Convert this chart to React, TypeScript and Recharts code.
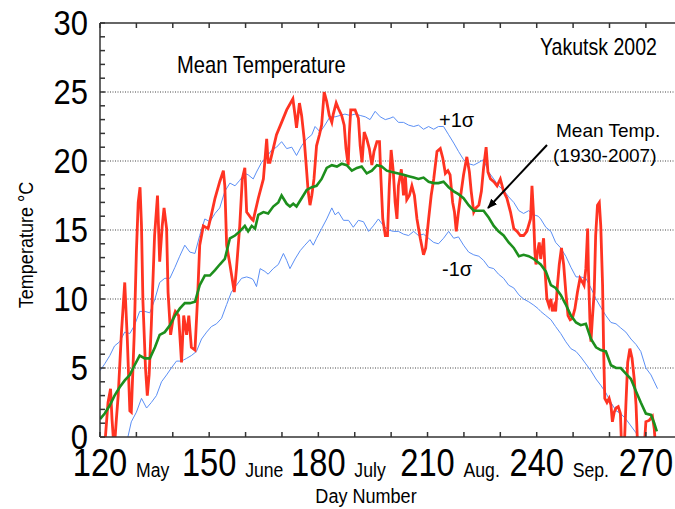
import React from "react";
import { LineChart, Line, XAxis, YAxis, CartesianGrid } from "recharts";

// Yakutsk 2002, daily mean temperature vs. 1930-2007 climatology
const tickDays = [120, 130, 140, 150, 160, 170, 180, 190, 200, 210, 220, 230, 240, 250, 260, 270];
const majorDays = [120, 150, 180, 210, 240, 270];
const monthNames = ["May", "June", "July", "Aug.", "Sep."];
const tempTicks = Array.from({ length: 31 }, (_, i) => i);

const obsDays = [
  121.2, 122.2, 122.9, 123.3, 123.9, 124.5, 125.0, 125.9, 126.8, 127.5, 128.2, 128.6, 129.4, 130.0,
  130.5, 131.0, 131.4, 131.8, 132.5, 133.0, 133.5, 134.1, 135.0, 135.8, 136.4, 137.1, 137.6, 138.3,
  138.7, 139.4, 140.1, 140.7, 141.6, 142.4, 143.0, 143.8, 144.4, 145.1, 146.1, 146.8, 147.4, 148.4,
  149.7, 150.6, 151.6, 152.9, 153.9, 154.3, 154.8, 155.7, 156.9, 157.5, 158.4, 159.1, 159.8, 160.3,
  161.7, 162.1, 163.5, 164.9, 165.8, 166.2, 166.7, 167.6, 168.5, 169.9, 171.3, 173.0, 173.6, 174.0,
  174.8, 175.4, 176.1, 176.6, 177.2, 177.7, 178.2, 178.8, 179.5, 180.3, 180.9, 181.6, 182.3, 183.0,
  183.7, 184.1, 184.9, 185.5, 186.4, 187.1, 187.6, 188.2, 188.5, 188.9, 190.1, 191.0, 191.5, 192.0,
  192.6, 193.3, 194.0, 194.7, 195.3, 196.1, 196.8, 197.2, 197.7, 198.4, 199.0, 199.5, 200.0, 200.6,
  201.1, 201.6, 202.0, 202.8, 203.4, 203.9, 204.3, 205.0, 205.7, 206.4, 207.1, 208.0, 208.9, 209.5,
  210.3, 211.0, 211.7, 212.6, 213.5, 214.2, 214.9, 215.6, 216.2, 216.9, 217.4, 217.9, 218.4, 219.0,
  219.9, 220.8, 221.5, 222.0, 222.7, 223.3, 224.1, 224.8, 225.4, 226.1, 226.6, 227.3, 228.2, 229.1,
  230.0, 230.9, 231.8, 232.8, 233.7, 234.6, 235.5, 236.4, 237.3, 238.3, 238.7, 239.1, 239.5, 239.8,
  240.2, 240.7, 241.1, 241.9, 242.3, 242.8, 243.4, 243.9, 244.3, 244.8, 245.2, 245.7, 246.2, 246.8,
  247.4, 248.0, 248.6, 249.2, 249.8, 250.5, 251.2, 251.9, 252.6, 253.0, 253.5, 254.0, 254.2, 254.6,
  254.9, 255.3, 255.8, 256.2, 256.7, 257.2, 257.6, 258.1, 258.4, 258.7, 259.3, 259.9, 260.4, 260.8,
  261.3, 261.8, 262.4, 263.0, 263.3, 264.1, 264.5, 265.0, 265.6, 266.2, 266.8, 267.3, 267.7, 268.6,
  269.6, 270.0, 270.9, 271.8, 272.3, 272.6,
];
const obsTemps = [
  -1, 2.5, 3.5, 1.3, -1, 1.3, 3.0, 7.6, 11.2, 7.1, 1.9, 1.8, 7.4, 13.4,
  17.0, 18.1, 15.3, 9.8, 5.0, 3.0, 4.5, 8.1, 14.6, 17.5, 12.7, 15.3, 16.6, 15.1,
  10.5, 7.4, 8.6, 9.1, 8.8, 5.4, 8.8, 7.4, 8.8, 6.5, 6.3, 10.0, 13.9, 15.3,
  15.1, 16.1, 17.3, 18.5, 19.3, 18.2, 13.9, 12.5, 10.5, 12.2, 15.3, 18.7, 19.5, 16.3,
  15.8, 15.7, 17.3, 18.7, 21.6, 19.9, 19.9, 20.9, 21.9, 22.8, 23.7, 24.5, 23.3, 22.4,
  24.2, 23.3, 21.6, 19.9, 17.8, 16.8, 17.5, 18.7, 21.1, 21.9, 22.6, 25.0, 24.3, 23.3,
  22.8, 23.4, 24.2, 23.8, 23.3, 22.6, 20.9, 19.7, 21.9, 23.7, 23.7, 23.1, 21.1, 19.9,
  22.1, 21.6, 20.9, 19.7, 20.7, 21.4, 21.4, 18.7, 15.8, 14.6, 14.6, 18.2, 20.8, 19.2,
  17.0, 15.8, 18.2, 19.4, 17.5, 19.0, 17.2, 17.5, 18.2, 17.5, 15.8, 14.4, 13.2, 13.7,
  15.8, 17.5, 18.7, 20.7, 20.9, 20.2, 19.1, 19.3, 19.0, 17.0, 16.3, 14.9, 16.1, 17.3,
  19.0, 20.3, 19.2, 17.8, 16.3, 16.6, 16.8, 17.8, 19.5, 21.0, 19.2, 18.7, 18.5, 18.2,
  18.7, 17.8, 17.3, 16.3, 15.1, 14.9, 14.6, 14.6, 14.9, 15.8, 18.2, 16.3, 13.4, 12.5,
  13.4, 14.1, 12.9, 14.4, 12.0, 10.0, 9.5, 10.0, 9.1, 9.5, 9.1, 11.0, 12.5, 13.7,
  12.5, 10.5, 8.8, 8.5, 8.6, 9.3, 10.5, 11.5, 11.2, 11.0, 12.2, 15.1, 12.2, 8.6,
  6.9, 8.6, 10.5, 14.6, 16.8, 17.0, 15.3, 11.0, 6.2, 2.8, 2.5, 2.8, 2.3, 1.1,
  1.8, 2.1, 2.2, 1.7, -0.5, -0.5, 2.3, 5.4, 6.4, 5.7, 4.2, 2.3, -0.5, -0.5,
  -0.5, 1.1, 1.2, 1.5, 0.6, -0.5,
];

const meanDays = [
  120.0, 121.3, 122.7, 124.0, 125.4, 126.8, 128.2, 129.5, 130.9, 132.3, 133.7, 135.1, 136.4, 137.8,
  139.2, 140.6, 141.9, 143.3, 144.7, 146.1, 147.4, 148.8, 150.2, 151.6, 152.9, 154.3, 155.7, 157.1,
  158.4, 159.8, 160.7, 161.7, 162.6, 163.5, 164.9, 166.2, 167.6, 169.0, 169.9, 171.3, 172.2, 173.1,
  174.0, 175.4, 176.8, 178.2, 179.5, 180.9, 182.3, 183.7, 185.1, 186.4, 187.8, 189.2, 190.6, 191.9,
  193.3, 194.7, 196.1, 197.4, 198.8, 200.2, 202.0, 203.4, 204.8, 206.2, 207.5, 208.9, 210.3, 211.7,
  213.0, 214.4, 215.8, 217.2, 218.5, 219.9, 221.3, 222.7, 224.1, 225.4, 226.8, 228.2, 229.5, 230.9,
  232.3, 233.7, 235.1, 236.4, 237.8, 239.2, 241.1, 242.5, 243.9, 245.2, 246.6, 248.0, 249.4, 250.8,
  252.1, 253.5, 254.9, 256.3, 257.6, 259.0, 260.4, 261.8, 263.1, 264.5, 265.9, 267.3, 268.6, 270.0,
  271.4, 272.3, 273.0,
];
const meanTemps = [
  1.3, 1.7, 2.3, 3.0, 3.6, 4.1, 4.5, 5.2, 5.9, 5.7, 5.7, 6.5, 7.4, 7.6,
  8.1, 8.8, 9.3, 9.7, 9.7, 9.8, 11.0, 11.7, 11.7, 12.1, 12.5, 12.9, 14.4, 14.6,
  14.9, 15.3, 14.9, 15.3, 15.1, 16.1, 16.3, 16.2, 16.7, 17.0, 17.5, 16.9, 16.7, 16.9,
  16.7, 17.3, 17.9, 18.1, 18.2, 18.7, 19.5, 19.7, 19.6, 19.8, 19.7, 19.3, 19.5, 19.6,
  19.1, 19.3, 19.7, 19.6, 19.3, 19.2, 19.1, 19.0, 18.9, 18.8, 18.7, 18.8, 18.5, 18.4,
  18.4, 18.5, 18.1, 17.8, 17.6, 17.3, 16.8, 16.4, 16.4, 16.4, 15.9, 15.3, 14.9, 14.6,
  14.1, 13.7, 13.1, 13.2, 13.1, 12.9, 12.5, 12.0, 11.0, 10.8, 10.3, 9.6, 8.8, 8.3,
  8.1, 8.2, 7.1, 6.5, 6.3, 6.2, 5.2, 5.0, 5.0, 4.6, 4.2, 3.3, 2.5, 1.7,
  1.6, 1.0, 0.4,
];

const upperDays = [
  120.0, 121.3, 122.7, 124.0, 125.4, 126.8, 128.2, 129.5, 130.9, 132.3, 133.7, 135.1, 136.4, 137.8,
  139.2, 140.6, 141.9, 143.3, 144.7, 146.1, 147.4, 148.8, 150.2, 151.6, 152.9, 154.3, 155.7, 157.1,
  158.4, 159.8, 160.7, 162.1, 163.0, 164.4, 165.8, 167.2, 168.5, 169.9, 171.3, 172.7, 174.0, 175.4,
  176.8, 178.2, 179.1, 180.5, 181.8, 183.2, 184.6, 186.0, 187.3, 188.7, 190.1, 191.5, 192.9, 194.2,
  195.6, 197.0, 198.4, 199.7, 200.6, 202.0, 203.4, 204.8, 206.2, 207.5, 208.9, 210.3, 211.7, 213.0,
  214.4, 215.8, 217.2, 218.5, 219.9, 221.3, 222.7, 224.1, 225.4, 226.8, 228.2, 229.5, 230.9, 232.3,
  233.7, 235.1, 236.4, 237.8, 239.2, 240.4, 241.1, 242.5, 243.9, 245.2, 246.6, 248.0, 249.4, 250.8,
  252.1, 253.5, 254.9, 256.3, 257.6, 259.0, 260.4, 261.8, 263.1, 264.5, 265.9, 267.3, 268.6, 270.0,
  271.4, 272.3, 273.2,
];
const upperTemps = [
  4.8, 5.3, 5.9, 6.6, 6.9, 7.6, 7.5, 8.1, 9.1, 9.1, 9.0, 10.0, 11.2, 11.5,
  11.5, 12.3, 13.1, 13.9, 13.4, 13.3, 14.6, 15.8, 15.6, 16.2, 16.6, 17.8, 18.4, 18.2,
  18.6, 19.1, 19.0, 18.7, 19.2, 19.9, 20.3, 20.8, 21.0, 21.4, 20.9, 21.0, 20.4, 21.1,
  21.6, 21.9, 22.5, 22.1, 22.6, 23.2, 23.2, 23.3, 23.4, 23.3, 23.4, 23.3, 23.2, 23.0,
  23.6, 23.2, 23.0, 23.1, 23.2, 22.8, 22.8, 22.6, 22.5, 22.6, 22.3, 22.5, 22.3, 22.5,
  22.5, 21.9, 21.3, 20.7, 20.1, 19.8, 19.7, 19.9, 20.1, 19.2, 18.7, 18.2, 17.9, 17.4,
  17.0, 16.4, 16.2, 16.4, 16.1, 16.0, 15.8, 15.2, 14.9, 14.1, 13.7, 13.1, 12.3, 11.6,
  11.6, 11.5, 10.8, 10.0, 9.4, 8.8, 8.3, 8.2, 7.9, 7.6, 7.1, 6.7, 6.2, 5.0,
  4.5, 4.0, 3.5,
];

const lowerDays = [
  127.5, 128.6, 130.0, 131.4, 132.8, 134.1, 135.5, 136.9, 138.3, 139.6, 141.0, 142.4, 143.8, 145.1,
  146.5, 147.9, 149.3, 150.6, 152.0, 153.4, 154.8, 156.1, 157.5, 158.9, 160.3, 161.5, 162.1, 163.0,
  164.0, 165.3, 166.2, 167.6, 169.0, 170.4, 171.3, 172.2, 173.6, 175.0, 176.3, 177.7, 178.6, 179.5,
  180.9, 182.3, 183.7, 184.6, 185.5, 186.9, 188.3, 189.6, 191.0, 192.4, 193.8, 195.1, 196.5, 197.9,
  199.3, 200.6, 202.0, 203.4, 204.8, 206.2, 207.5, 208.9, 210.3, 211.7, 213.0, 214.4, 215.8, 217.2,
  218.5, 219.9, 221.3, 222.7, 224.1, 225.4, 226.8, 228.2, 229.5, 230.9, 232.3, 233.7, 235.1, 236.4,
  237.8, 239.2, 240.4, 241.1, 242.5, 243.9, 245.2, 246.6, 248.0, 249.4, 250.8, 252.1, 253.5, 254.9,
  256.3, 257.6, 259.0, 260.4, 261.8, 263.1, 264.5, 265.9, 267.3, 268.2,
];
const lowerTemps = [
  -0.2, 1.1, 1.8, 2.8, 2.1, 2.5, 3.0, 4.0, 4.5, 5.0, 5.5, 5.5, 5.7, 5.9,
  6.2, 7.1, 7.6, 8.0, 8.2, 8.6, 9.6, 10.5, 11.0, 11.5, 11.6, 11.5, 11.4, 10.9,
  12.2, 12.0, 11.8, 12.2, 12.5, 13.3, 12.8, 12.2, 12.9, 13.5, 13.9, 14.3, 13.9, 14.4,
  15.1, 15.8, 16.6, 16.1, 16.3, 15.7, 15.7, 15.2, 15.7, 15.6, 14.9, 15.3, 15.8, 15.3,
  15.0, 14.9, 14.9, 14.7, 14.6, 14.9, 14.6, 14.7, 14.4, 14.1, 14.0, 14.4, 14.9, 14.4,
  14.5, 13.9, 13.4, 13.2, 13.1, 12.8, 12.3, 12.2, 11.8, 11.5, 11.0, 10.8, 10.3, 10.0,
  9.8, 9.55, 9.3, 9.1, 8.8, 8.5, 8.0, 7.5, 6.9, 6.4, 6.2, 5.8, 5.3, 4.8,
  4.2, 3.75, 3.2, 2.5, 1.9, 1.7, 1.3, 0.8, 0.3, -0.2,
];

const zip = (days: number[], temps: number[]) => days.map((day, i) => ({ day, t: temps[i] }));
const obsData = zip(obsDays, obsTemps);
const meanData = zip(meanDays, meanTemps);
const upperData = zip(upperDays, upperTemps);
const lowerData = zip(lowerDays, lowerTemps);

const sans = "'Liberation Sans', Arial, Helvetica, sans-serif";
const axisColor = "#333";

// the original uses a condensed Helvetica; squeeze regular Liberation Sans horizontally
function NText(props: {
  x: number;
  y: number;
  size: number;
  sx?: number;
  anchor?: "start" | "middle" | "end";
  children: React.ReactNode;
}) {
  const { x, y, size, sx = 0.84, anchor = "start", children } = props;
  return (
    <text
      transform={`translate(${x},${y}) scale(${sx},1)`}
      textAnchor={anchor}
      fontSize={size}
      fontFamily={sans}
      fill="#000"
    >
      {children}
    </text>
  );
}

function BottomTick(props: any) {
  const { x, y, payload } = props;
  const v = payload.value;
  const idx = majorDays.indexOf(v);
  return (
    <g>
      <line x1={x} y1={y} x2={x} y2={y - 5} stroke={axisColor} strokeWidth={1.5} />
      {idx >= 0 && (
        <NText x={x} y={y + 39} size={38} anchor="middle" sx={0.86}>
          {v}
        </NText>
      )}
      {idx >= 0 && monthNames[idx] && (
        <NText x={x + 36} y={y + 40} size={21} sx={0.84}>
          {monthNames[idx]}
        </NText>
      )}
    </g>
  );
}

function TopTick(props: any) {
  const { x, y } = props;
  return <line x1={x} y1={y} x2={x} y2={y + 5} stroke={axisColor} strokeWidth={1.5} />;
}

function LeftTick(props: any) {
  const { x, y, payload } = props;
  const v = payload.value;
  return (
    <g>
      <line x1={x} y1={y} x2={x + 5} y2={y} stroke={axisColor} strokeWidth={1.5} />
      {v % 5 === 0 && (
        <NText x={x - 12} y={y + 12} size={36} anchor="end" sx={0.86}>
          {v}
        </NText>
      )}
    </g>
  );
}

export default function App() {
  return (
    <div style={{ position: "absolute", left: 0, top: 0, width: 675, height: 509, background: "#fff" }}>
      <LineChart width={675} height={509} margin={{ top: 0, right: 0, bottom: 0, left: 0 }}>
        <CartesianGrid
          stroke="#444"
          strokeDasharray="1 1.5"
          verticalValues={[150, 180, 210, 240, 270]}
          horizontalValues={[5, 10, 15, 20, 25]}
        />
        <XAxis
          xAxisId="bottom"
          type="number"
          dataKey="day"
          domain={[120, 278]}
          allowDataOverflow
          ticks={tickDays}
          interval={0}
          height={72}
          tickSize={0}
          tickMargin={0}
          tickLine={false}
          tick={<BottomTick />}
          axisLine={{ stroke: axisColor, strokeWidth: 1.5 }}
        />
        <XAxis
          xAxisId="top"
          orientation="top"
          type="number"
          dataKey="day"
          domain={[120, 278]}
          allowDataOverflow
          ticks={tickDays}
          interval={0}
          height={23}
          tickSize={0}
          tickMargin={0}
          tickLine={false}
          tick={<TopTick />}
          axisLine={{ stroke: axisColor, strokeWidth: 1.5 }}
        />
        <YAxis
          type="number"
          domain={[0, 30]}
          allowDataOverflow
          ticks={tempTicks}
          interval={0}
          width={100}
          tickSize={0}
          tickMargin={0}
          tickLine={false}
          tick={<LeftTick />}
          axisLine={{ stroke: axisColor, strokeWidth: 1.5 }}
        />
        <Line xAxisId="bottom" data={upperData} dataKey="t" stroke="#5b8ff5" strokeWidth={1} dot={false} isAnimationActive={false} />
        <Line xAxisId="bottom" data={lowerData} dataKey="t" stroke="#5b8ff5" strokeWidth={1} dot={false} isAnimationActive={false} />
        <Line xAxisId="bottom" data={obsData} dataKey="t" stroke="#ff3322" strokeWidth={2.8} dot={false} isAnimationActive={false} />
        <Line xAxisId="bottom" data={meanData} dataKey="t" stroke="#1d8f1d" strokeWidth={2.6} dot={false} isAnimationActive={false} />
      </LineChart>
      <svg width={675} height={509} style={{ position: "absolute", left: 0, top: 0, pointerEvents: "none" }}>
        <defs>
          <marker id="head" markerWidth="10" markerHeight="8" refX="9" refY="4" orient="auto" markerUnits="userSpaceOnUse">
            <path d="M0,0 L10,4 L0,8 Z" fill="#000" />
          </marker>
        </defs>
        <NText x={177} y={73} size={24}>Mean Temperature</NText>
        <NText x={540} y={55} size={23} sx={0.85}>Yakutsk 2002</NText>
        <text x={439} y={127} fontSize={20} fontFamily={sans} fill="#000">+1σ</text>
        <text x={442} y={276} fontSize={20} fontFamily={sans} fill="#000">-1σ</text>
        <text x={556} y={137} fontSize={19} fontFamily={sans} fill="#000">Mean Temp.</text>
        <text x={553} y={162} fontSize={19} fontFamily={sans} fill="#000">(1930-2007)</text>
        <line x1={547} y1={145} x2={488} y2={208} stroke="#000" strokeWidth={2} markerEnd="url(#head)" />
        <NText x={366} y={503} size={21} anchor="middle" sx={0.86}>Day Number</NText>
        <text
          transform="translate(33, 245) rotate(-90) scale(0.86,1)"
          textAnchor="middle"
          fontSize={21}
          fontFamily={sans}
          fill="#000"
        >
          Temperature °C
        </text>
      </svg>
    </div>
  );
}
